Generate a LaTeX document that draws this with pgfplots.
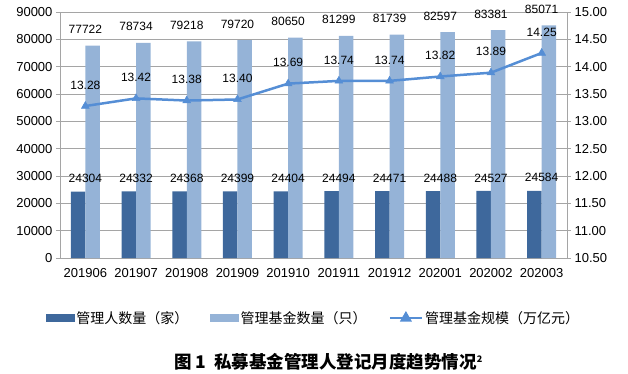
\documentclass[border=0pt]{standalone}
\usepackage{fontspec}
\setmainfont{Liberation Sans}
\newfontfamily\cjk{Noto Sans CJK SC}
\usepackage{pgfplots}
\usepackage{pgfplotstable}
\pgfplotsset{compat=1.18}
\definecolor{darkbar}{RGB}{62,104,156}
\definecolor{lightbar}{RGB}{149,179,215}
\definecolor{linec}{RGB}{85,142,213}
\definecolor{gridc}{RGB}{165,165,165}

\pgfplotstableread{
x mgr fund scale
0 24304 77722 13.28
1 24332 78734 13.42
2 24368 79218 13.38
3 24399 79720 13.40
4 24404 80650 13.69
5 24494 81299 13.74
6 24471 81739 13.74
7 24488 82597 13.82
8 24527 83381 13.89
9 24584 85071 14.25
}\data

\begin{document}
\begin{tikzpicture}
\path[use as bounding box] (-60pt,-115pt) rectangle (568pt,258pt);
\pgfplotsset{
  common/.style={
    anchor=south west, scale only axis,
    width=507pt, height=246pt,
    xmin=-0.5, xmax=9.5, clip=false,
    /pgf/number format/assume math mode=true,
    tick label style={font=\fontsize{13}{15}\selectfont},
    tick align=outside, major tick length=4pt,
    every tick/.style={gridc, line width=0.6pt},
  }
}
\begin{axis}[common,
  axis line style={gridc, line width=0.8pt},
  ymin=0, ymax=90000, ytick={0,10000,...,90000},
  yticklabel style={/pgf/number format/1000 sep={}},
  scaled y ticks=false,
  ytick pos=left, xtick pos=bottom,
  xtick={0,...,9},
  xticklabels={201906,201907,201908,201909,201910,201911,201912,202001,202002,202003},
  xtick style={draw=none},
  xticklabel style={yshift=-3pt},
  ymajorgrids, grid style={gridc, line width=0.8pt},
  nodes near coords={\pgfmathprintnumber[1000 sep={},fixed,precision=0]{\pgfplotspointmeta}},
]
\addplot[ybar, bar width=14.5pt, bar shift=-7.25pt, fill=darkbar, draw=none,
  nodes near coords style={anchor=center, yshift=13pt, font=\fontsize{12}{14}\selectfont, text=black}]
  table[x=x,y=mgr]{\data};
\addplot[ybar, bar width=14.5pt, bar shift=7.25pt, fill=lightbar, draw=none,
  nodes near coords style={anchor=center, yshift=16pt, font=\fontsize{12}{14}\selectfont, text=black}]
  table[x=x,y=fund]{\data};
\end{axis}
\begin{axis}[common,
  axis y line*=right, axis x line=none,
  y axis line style={gridc, line width=0.8pt},
  ymin=10.5, ymax=15,
  ytick={10.5,11,11.5,12,12.5,13,13.5,14,14.5,15},
  yticklabel style={/pgf/number format/.cd, fixed, fixed zerofill, precision=2},
  legend columns=3,
  legend style={at={(0.5,-0.244)}, anchor=center, draw=none, fill=none,
    font=\cjk\fontsize{14}{16}\selectfont,
    /tikz/every even column/.append style={column sep=20pt},
    inner sep=0pt},
  legend cell align=left,
]
\addlegendimage{legend image code/.code={\fill[darkbar] (0pt,-3.5pt) rectangle (28pt,3.5pt);}}
\addlegendentry{管理人数量（家）}
\addlegendimage{legend image code/.code={\fill[lightbar] (0pt,-3.5pt) rectangle (28pt,3.5pt);}}
\addlegendentry{管理基金数量（只）}
\addplot[linec, line width=2.5pt, mark=triangle*, mark size=4.5pt,
  mark options={solid, line width=0.5pt},
  nodes near coords={\pgfmathprintnumber[fixed,fixed zerofill,precision=2]{\pgfplotspointmeta}},
  nodes near coords style={anchor=center, yshift=21pt, font=\fontsize{12}{14}\selectfont, text=black},
  legend image code/.code={\draw[linec, line width=2.5pt] (0pt,0pt) -- (32pt,0pt);
    \fill[linec] (16pt,0pt) ++(90:4.5pt) -- ++(-120:7.8pt) -- ++(0:7.8pt) -- cycle;}]
  table[x=x,y=scale]{\data};
\addlegendentry{管理基金规模（万亿元）}
\end{axis}
\node[font=\cjk\bfseries\fontsize{17.5}{20}\selectfont] at (268.5pt,-104pt)
  {图 1\ \ 私募基金管理人登记月度趋势情况\textsuperscript{\fontsize{9}{10}\selectfont 2}};
\end{tikzpicture}
\end{document}
